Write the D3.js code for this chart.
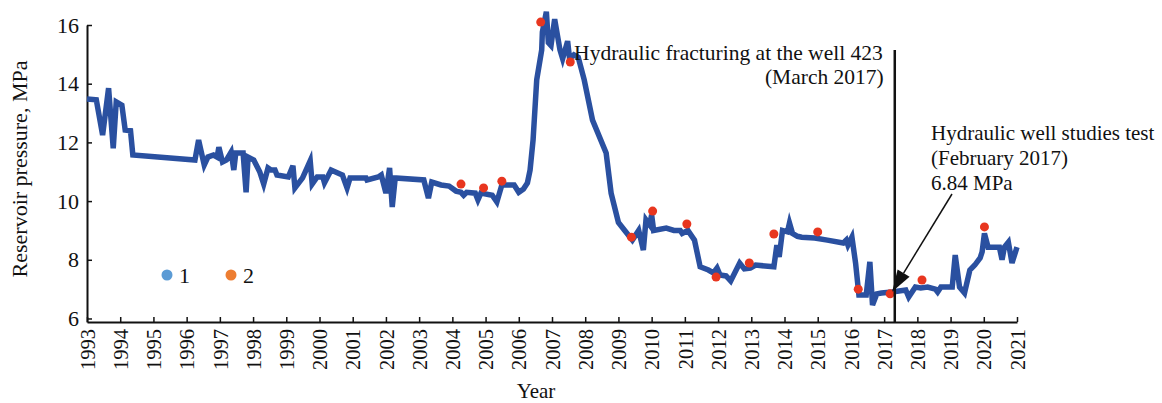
<!DOCTYPE html>
<html>
<head>
<meta charset="utf-8">
<script src="https://cdn.jsdelivr.net/npm/d3@7"></script>
<style>
  body { margin: 0; background: #fff; }
  svg text { font-family: "Liberation Serif", "Times New Roman", serif; fill: #111; }
</style>
</head>
<body>
<div id="chart"></div>
<script>
// reservoir pressure history (year, MPa)
const years = [
  1993.0, 1993.28, 1993.47, 1993.65, 1993.79, 1993.88, 1994.05, 1994.15, 1994.31, 1994.38,
  1996.25, 1996.36, 1996.53, 1996.64, 1996.81, 1996.92, 1996.97, 1997.08, 1997.2, 1997.34,
  1997.42, 1997.48, 1997.7, 1997.79, 1997.85, 1998.02, 1998.2, 1998.32, 1998.45, 1998.54,
  1998.66, 1998.72, 1999.06, 1999.2, 1999.26, 1999.49, 1999.72, 1999.78, 1999.93, 2000.1,
  2000.15, 2000.35, 2000.55, 2000.69, 2000.83, 2000.92, 2001.4, 2001.43, 2001.77, 2001.86,
  2002.0, 2002.11, 2002.19, 2002.28, 2003.14, 2003.28, 2003.38, 2003.66, 2003.9, 2004.11,
  2004.26, 2004.34, 2004.43, 2004.69, 2004.77, 2004.86, 2005.2, 2005.34, 2005.49, 2005.86,
  2006.0, 2006.14, 2006.26, 2006.34, 2006.43, 2006.54, 2006.69, 2006.71, 2006.83, 2006.89,
  2006.97, 2007.08, 2007.24, 2007.32, 2007.47, 2007.53, 2007.66, 2007.79, 2007.97, 2008.22,
  2008.63, 2008.78, 2009.0, 2009.19, 2009.42, 2009.61, 2009.75, 2009.83, 2009.94, 2010.0,
  2010.06, 2010.44, 2010.67, 2010.86, 2010.92, 2011.09, 2011.29, 2011.46, 2011.71, 2011.86,
  2011.97, 2012.06, 2012.24, 2012.38, 2012.65, 2012.79, 2012.97, 2013.13, 2013.68, 2013.77,
  2013.84, 2013.94, 2014.09, 2014.15, 2014.24, 2014.39, 2014.52, 2014.91, 2015.29, 2015.77,
  2015.86, 2015.91, 2016.03, 2016.14, 2016.24, 2016.46, 2016.57, 2016.65, 2016.78, 2016.92,
  2017.24, 2017.65, 2017.74, 2017.94, 2018.1, 2018.31, 2018.54, 2018.61, 2018.71, 2019.05,
  2019.14, 2019.27, 2019.42, 2019.58, 2019.73, 2019.89, 2019.95, 2020.02, 2020.13, 2020.36,
  2020.47, 2020.55, 2020.62, 2020.74, 2020.85, 2021.0
];
const pressure = [
  13.48, 13.45, 12.25, 13.85, 11.8, 13.38, 13.27, 12.42, 12.4, 11.57,
  11.4, 12.08, 11.23, 11.5, 11.57, 11.5, 11.84, 11.33, 11.4, 11.67,
  11.06, 11.64, 11.64, 10.3, 11.5, 11.4, 11.0, 10.58, 11.13, 11.06,
  11.06, 10.89, 10.82, 11.2, 10.45, 10.79, 11.37, 10.58, 10.82, 10.82,
  10.62, 11.06, 10.96, 10.89, 10.45, 10.79, 10.79, 10.72, 10.82, 10.89,
  10.27, 11.13, 9.8, 10.79, 10.72, 10.1, 10.65, 10.55, 10.51, 10.34,
  10.3, 10.2, 10.3, 10.27, 10.04, 10.27, 10.2, 9.97, 10.55, 10.55,
  10.3, 10.41, 10.62, 11.06, 12.08, 14.13, 15.15, 15.76, 16.45, 15.4,
  15.3, 16.2, 15.15, 14.85, 15.45, 14.85, 14.98, 14.9, 14.13, 12.76,
  11.64, 10.27, 9.27, 9.0, 8.67, 9.0, 8.33, 9.36, 9.19, 9.53,
  9.0, 9.08, 9.0, 9.0, 8.9, 9.0, 8.67, 7.76, 7.65, 7.55,
  7.72, 7.48, 7.45, 7.28, 7.89, 7.69, 7.72, 7.82, 7.76, 8.5,
  8.1, 9.0, 8.95, 9.25, 8.9, 8.8, 8.77, 8.74, 8.67, 8.57,
  8.67, 8.5, 8.77, 7.89, 6.8, 6.8, 7.93, 6.46, 6.84, 6.87,
  6.9, 6.97, 6.73, 7.07, 7.04, 7.07, 7.0, 6.9, 7.07, 7.07,
  8.16, 7.07, 6.87, 7.65, 7.82, 8.06, 8.27, 8.9, 8.43, 8.43,
  8.43, 8.0, 8.43, 8.6, 7.89, 8.43
];

// red measurement points
const measYears = [2004.26, 2004.94, 2005.49, 2006.66, 2007.55, 2009.39, 2010.03, 2011.06,
  2011.94, 2012.94, 2013.68, 2015.0, 2016.22, 2017.18, 2018.14, 2020.02];
const measPressure = [10.58, 10.45, 10.68, 16.1, 14.74, 8.77, 9.66, 9.22,
  7.41, 7.89, 8.88, 8.95, 7.0, 6.84, 7.31, 9.12];

const yearTicks = d3.range(1993, 2022);
const pressureTicks = [6, 8, 10, 12, 14, 16];
const legendLabels = ["1", "2"];
const legendColors = ["#5b9bd5", "#ed7d31"];

const fracYear = 2017.32;      // hydraulic fracturing, March 2017
const testYear = 2017.18;      // well test, February 2017
const testPressure = 6.84;

const width = 1162, height = 403;
const margin = { top: 25, right: 145, bottom: 81, left: 87 };

const svg = d3.select("#chart").append("svg")
  .attr("width", width)
  .attr("height", height);

const x = d3.scaleLinear()
  .domain([1993, 2021])
  .range([margin.left, width - margin.right]);

const y = d3.scaleLinear()
  .domain([5.88, 16])
  .range([height - margin.bottom, margin.top]);

// axes
const xAxis = svg.append("g")
  .attr("transform", `translate(0,${height - margin.bottom})`)
  .call(d3.axisBottom(x).tickValues(yearTicks).tickFormat(d3.format("d"))
    .tickSizeInner(-5).tickSizeOuter(0));
xAxis.selectAll("text")
  .attr("transform", "rotate(-90)")
  .attr("text-anchor", "end")
  .attr("x", -7)
  .attr("y", 0)
  .attr("dy", "0.35em")
  .style("font-size", "20.5px");

const yAxis = svg.append("g")
  .attr("transform", `translate(${margin.left},0)`)
  .call(d3.axisLeft(y).tickValues(pressureTicks).tickSizeInner(-5).tickSizeOuter(0).tickPadding(8));
yAxis.selectAll("text").style("font-size", "22px");

svg.selectAll(".domain").attr("stroke", "#111").attr("stroke-width", 2);
svg.selectAll(".tick line").attr("stroke", "#111").attr("stroke-width", 1.5);

// axis titles
svg.append("text")
  .attr("x", 536)
  .attr("y", 398)
  .attr("text-anchor", "middle")
  .style("font-size", "21px")
  .text("Year");

svg.append("text")
  .attr("transform", "translate(27,169) rotate(-90)")
  .attr("text-anchor", "middle")
  .style("font-size", "22px")
  .text("Reservoir pressure, MPa");

// pressure line
const line = d3.line()
  .x(i => x(years[i]))
  .y(i => y(pressure[i]));

svg.append("path")
  .datum(d3.range(years.length))
  .attr("d", line)
  .attr("fill", "none")
  .attr("stroke", "#2a50a0")
  .attr("stroke-width", 5.5)
  .attr("stroke-linejoin", "miter");

// measured points
svg.append("g").selectAll("circle")
  .data(d3.range(measYears.length))
  .join("circle")
  .attr("cx", i => x(measYears[i]))
  .attr("cy", i => y(measPressure[i]))
  .attr("r", 4.5)
  .attr("fill", "#e8361f");

// fracturing marker
svg.append("line")
  .attr("x1", x(fracYear)).attr("x2", x(fracYear))
  .attr("y1", 50).attr("y2", y.range()[0])
  .attr("stroke", "#111")
  .attr("stroke-width", 2.5);

svg.append("text")
  .attr("x", x(fracYear) - 12)
  .attr("y", 60)
  .attr("text-anchor", "end")
  .style("font-size", "21.5px")
  .text("Hydraulic fracturing at the well 423");
svg.append("text")
  .attr("x", x(fracYear) - 11)
  .attr("y", 84)
  .attr("text-anchor", "end")
  .style("font-size", "21.5px")
  .text("(March 2017)");

// well test annotation
const noteX = 931;
["Hydraulic well studies test", "(February 2017)", testPressure + " MPa"].forEach((t, i) => {
  svg.append("text")
    .attr("x", noteX)
    .attr("y", 140 + i * 25)
    .style("font-size", "21px")
    .text(t);
});

// arrow from note to the test point
const start = [noteX + 21, 194];
const tip = [x(testYear) + 2, y(testPressure) - 2];
const ang = Math.atan2(tip[1] - start[1], tip[0] - start[0]);
const headLen = 22, headW = 7;
const base = [tip[0] - headLen * Math.cos(ang), tip[1] - headLen * Math.sin(ang)];
svg.append("line")
  .attr("x1", start[0]).attr("y1", start[1])
  .attr("x2", base[0]).attr("y2", base[1])
  .attr("stroke", "#111").attr("stroke-width", 1.5);
svg.append("path")
  .attr("d", d3.line()([
    tip,
    [base[0] + headW * Math.sin(ang), base[1] - headW * Math.cos(ang)],
    [base[0] - headW * Math.sin(ang), base[1] + headW * Math.cos(ang)]
  ]) + "Z")
  .attr("fill", "#111");

// legend
const legend = svg.append("g").attr("transform", "translate(167,275)");
legendLabels.forEach((lab, i) => {
  const g = legend.append("g").attr("transform", `translate(${i * 64},0)`);
  g.append("circle").attr("r", 5.5).attr("fill", legendColors[i]);
  g.append("text").attr("x", 12).attr("dy", "0.35em").style("font-size", "22px").text(lab);
});
</script>
</body>
</html>
